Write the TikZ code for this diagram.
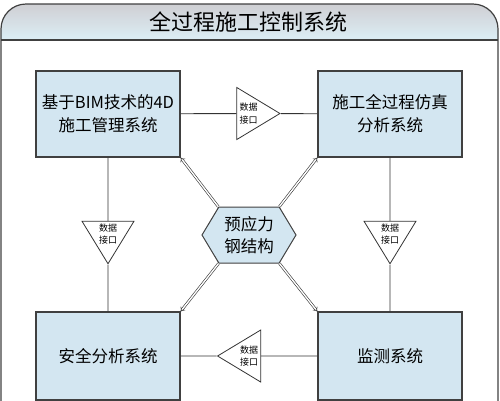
\documentclass[tikz,border=0pt]{standalone}
\usepackage{fontspec}
\setmainfont{Noto Sans CJK SC}
\usetikzlibrary{arrows}
\usetikzlibrary{shapes.geometric}
\usetikzlibrary{shapes.symbols}
\definecolor{boxblue}{HTML}{D3E6F1}
\definecolor{bandgray}{HTML}{CFCFD3}
\definecolor{bandblue}{HTML}{DCEEF6}
\tikzset{sys/.style = {draw = black!75, line width = 1.2pt, fill = boxblue, minimum width = 144pt, minimum height = 86pt, align = center, font = \fontsize{16.5}{23}\selectfont}}
\tikzset{port/.style = {draw = black!80, line width = 0.8pt, fill = white, isosceles triangle, isosceles triangle stretches, minimum width = 52pt, minimum height = 38pt, inner sep = 0, align = center, font = \fontsize{9}{12.5}\selectfont}}
\tikzset{hexa/.style = {draw = black!75, line width = 1pt, fill = boxblue, signal, signal to = west and east, signal pointer angle = 118, minimum width = 94pt, minimum height = 56pt, inner sep = 0, align = center, font = \fontsize{16.5}{22}\selectfont}}
\tikzset{link/.style = {draw = black!80, line width = 0.9pt}}
\tikzset{dbl/.style = {double = white, double distance = 1.4pt, line width = 0.6pt, draw = black!80, -implies}}

\begin{document}
\begin{tikzpicture}[x = 1pt, y = -1pt]
      \useasboundingbox (0, 0) rectangle (500, 400);

      % frame and title band
      \path[top color = bandgray, bottom color = bandblue] (1, 40) [rounded corners = 25pt] -- (1, 4) -- (498, 4) [sharp corners] -- (498, 40) -- cycle;
      \draw[black!75, line width = 1.2pt, rounded corners = 25pt] (1, 420) -- (1, 4) -- (498, 4) -- (498, 420);
      \draw[black!75, line width = 1.2pt] (1, 40) -- (498, 40);
      \node (title) at (248, 22) {\fontsize{22}{24}\selectfont 全过程施工控制系统};

      \node [sys] (bim) at (108, 114) {基于BIM技术的4D\\施工管理系统};
      \node [sys] (sim) at (390, 114) {施工全过程仿真\\分析系统};
      \node [sys, minimum height = 88pt] (safe) at (108, 356) {安全分析系统};
      \node [sys, minimum height = 88pt] (mon) at (390, 356) {监测系统};

      \node [hexa] (hex) at (249, 235) {预应力\\钢结构};

      \foreach \n/\x/\y/\r in {ptop/248.5/113.5/0, pleft/108/234/-90, pright/390/234/-90, pbot/249/356/180} {
        \node [port, shape border rotate = \r] (\n) at (\x, \y) {数据\\接口};
      }

      \draw [link] (bim) -- (ptop) -- (sim);
      \draw [link] (bim) -- (pleft) -- (safe);
      \draw [link] (sim) -- (pright) -- (mon);
      \draw [link] (mon) -- (pbot) -- (safe);

      \draw [dbl] (hex.north west) -- (bim.south east);
      \draw [dbl] (hex.north east) -- (sim.south west);
      \draw [dbl] (hex.south west) -- (safe.north east);
      \draw [dbl] (hex.south east) -- (mon.north west);
    \end{tikzpicture}
\end{document}
